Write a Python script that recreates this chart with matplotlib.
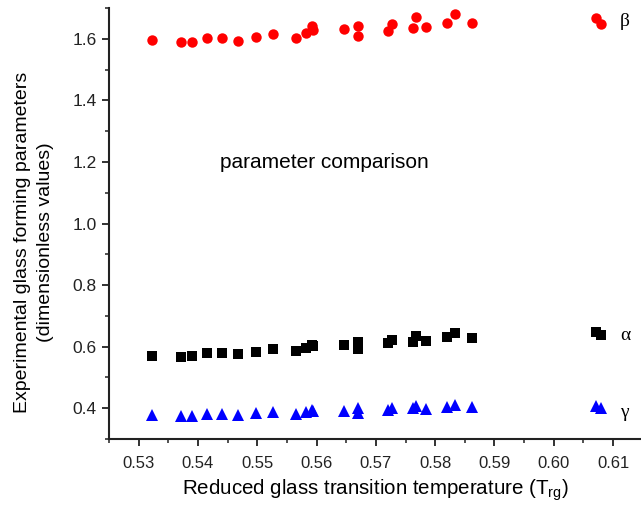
import numpy as np
import matplotlib.pyplot as plt
from matplotlib.ticker import MultipleLocator

plt.rcParams['font.family'] = ['Liberation Sans', 'DejaVu Sans']

# reduced glass transition temperature of each alloy
trg = [0.5322, 0.5371, 0.5390, 0.5415, 0.5440, 0.5468, 0.5498, 0.5527,
       0.5565, 0.5582, 0.5592, 0.5594, 0.5647, 0.5670, 0.5670, 0.5721,
       0.5727, 0.5762, 0.5768, 0.5785, 0.5820, 0.5834, 0.5862, 0.6071,
       0.6079]

beta = [1.598, 1.590, 1.590, 1.604, 1.602, 1.593, 1.607, 1.615,
        1.602, 1.620, 1.642, 1.629, 1.631, 1.643, 1.610, 1.625,
        1.650, 1.634, 1.672, 1.639, 1.652, 1.680, 1.652, 1.667,
        1.650]

alpha = [0.570, 0.568, 0.570, 0.578, 0.578, 0.576, 0.584, 0.591,
         0.586, 0.597, 0.605, 0.603, 0.605, 0.616, 0.591, 0.611,
         0.622, 0.616, 0.635, 0.619, 0.630, 0.643, 0.627, 0.649,
         0.638]

gamma = [0.378, 0.375, 0.376, 0.381, 0.380, 0.378, 0.384, 0.387,
         0.381, 0.387, 0.394, 0.390, 0.392, 0.400, 0.384, 0.394,
         0.400, 0.400, 0.407, 0.397, 0.403, 0.411, 0.403, 0.407,
         0.400]

fig = plt.figure(figsize=(6.41, 5.07), dpi=100)
ax = fig.add_axes([0.170, 0.134, 0.830, 0.850])

ax.plot(trg, beta, 'o', color='#ff0000', markersize=7.5, markeredgewidth=0)
ax.plot(trg, alpha, 's', color='black', markersize=6.5, markeredgewidth=0)
ax.plot(trg, gamma, '^', color='#0000ff', markersize=8, markeredgewidth=0)

ax.set_xlim(0.525, 0.6147)
ax.set_ylim(0.3, 1.7)
ax.xaxis.set_major_locator(MultipleLocator(0.01))
ax.xaxis.set_minor_locator(MultipleLocator(0.005))
ax.yaxis.set_major_locator(MultipleLocator(0.2))
ax.yaxis.set_minor_locator(MultipleLocator(0.1))
ax.xaxis.set_major_formatter(plt.FuncFormatter(lambda v, p: f"{v:.2f}"))
ax.yaxis.set_major_formatter(plt.FuncFormatter(lambda v, p: f"{v:.1f}"))

for s in ['top', 'right']:
    ax.spines[s].set_visible(False)
for s in ['left', 'bottom']:
    ax.spines[s].set_linewidth(1.5)
    ax.spines[s].set_color('#222222')

ax.tick_params(which='major', direction='out', length=5, width=1.3,
               colors='#222222', pad=4)
ax.tick_params(axis='x', which='major', labelsize=12, pad=7)
ax.tick_params(axis='y', which='major', labelsize=12.5)
ax.tick_params(which='minor', direction='out', length=3, width=1.1,
               colors='#222222')

ax.set_xlabel('Reduced glass transition temperature (T$_{\\mathregular{rg}}$)',
              fontsize=14.8, labelpad=5)
ax.set_ylabel('Experimental glass forming parameters\n(dimensionless values)',
              fontsize=14, linespacing=1.45)
ax.yaxis.set_label_coords(-0.103, 0.457)

ax.text(0.5613, 1.20, 'parameter comparison', fontsize=15,
        ha='center', va='center')

greek = dict(fontsize=14, family='Liberation Serif', ha='left', va='center')
ax.text(0.6112, 1.655, 'β', **greek)
ax.text(0.6112, 0.637, 'α', **greek)
ax.text(0.6112, 0.385, 'γ', **greek)

fig.savefig('out.png', dpi=100)
